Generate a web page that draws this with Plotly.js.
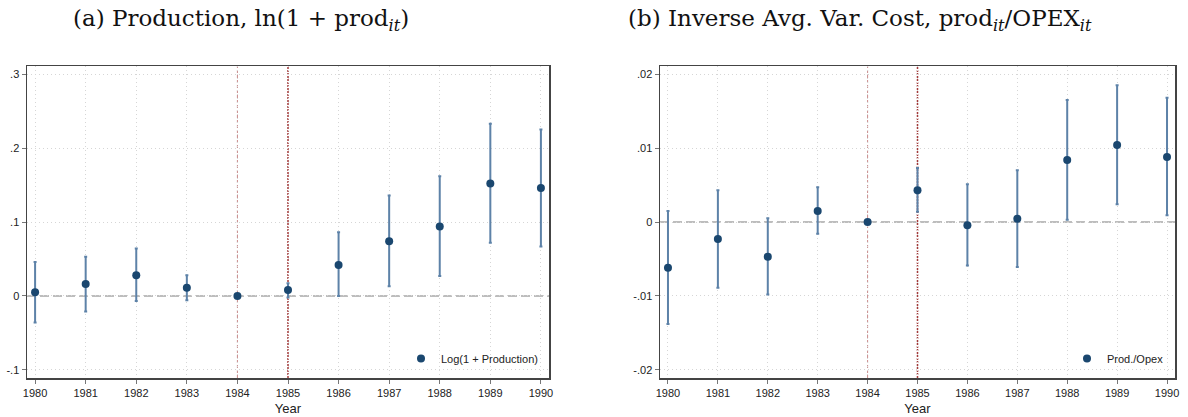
<!DOCTYPE html>
<html>
<head>
<meta charset="utf-8">
<script src="https://cdn.plot.ly/plotly-3.0.1.min.js"></script>
<style>html,body{margin:0;padding:0;background:#fff;}#chart{width:1188px;height:417px;}</style>
</head>
<body>
<div id="chart"></div>
<script>
// ---- data ----
const years = [1980, 1981, 1982, 1983, 1984, 1985, 1986, 1987, 1988, 1989, 1990];

const prodCoef = [0.005, 0.016, 0.028, 0.011, 0, 0.008, 0.042, 0.074, 0.094, 0.152, 0.146];
const prodHi   = [0.046, 0.053, 0.064, 0.028, 0, 0.017, 0.086, 0.136, 0.162, 0.233, 0.225];
const prodLo   = [-0.036, -0.021, -0.007, -0.006, 0, -0.002, 0.000, 0.013, 0.027, 0.072, 0.067];

const opexCoef = [-0.0062, -0.0023, -0.0047, 0.0015, 0, 0.0043, -0.00045, 0.00045, 0.0084, 0.0104, 0.0088];
const opexHi   = [0.0015, 0.0043, 0.0005, 0.0047, 0, 0.0073, 0.0051, 0.0070, 0.0165, 0.0185, 0.0168];
const opexLo   = [-0.0138, -0.0089, -0.0098, -0.0016, 0, 0.0014, -0.0059, -0.0061, 0.0003, 0.0024, 0.0009];

const prodTickVals = [-0.1, 0, 0.1, 0.2, 0.3];
const prodTickText = ["-.1", "0", ".1", ".2", ".3"];
const opexTickVals = [-0.02, -0.01, 0, 0.01, 0.02];
const opexTickText = ["-.02", "-.01", "0", ".01", ".02"];

const legendA = "Log(1 + Production)";
const legendB = "Prod./Opex";
const titleA = "(a) Production, ln(1 + prod<sub><i>it</i></sub>)";
const titleB = "(b) Inverse Avg. Var. Cost, prod<sub><i>it</i></sub>/OPEX<sub><i>it</i></sub>";
const eventYear = 1984;
const treatYear = 1985;

// ---- build ----
const W = 1188, H = 417;
const px = v => v / W;
const py = v => 1 - v / H;

const navy = "#1a476f";
const barCol = "#5d82a8";

function errTrace(coef, hi, lo, xa, ya, name, legend) {
  return {
    type: "scatter", mode: "markers", x: years, y: coef,
    xaxis: xa, yaxis: ya, name: name, legend: legend,
    marker: {color: navy, size: 8},
    error_y: {
      type: "data", symmetric: false,
      array: hi.map((h, i) => h - coef[i]),
      arrayminus: coef.map((c, i) => c - lo[i]),
      color: barCol, thickness: 2, width: 1.5
    },
    showlegend: true
  };
}

const data = [
  errTrace(prodCoef, prodHi, prodLo, "x", "y", legendA, "legend"),
  errTrace(opexCoef, opexHi, opexLo, "x2", "y2", legendB, "legend2")
];

const yDom = [py(378), py(66)];
const tickFont = {family: "Liberation Sans, Arial, sans-serif", size: 11, color: "#222"};

function xAxis(domain, anchor) {
  return {
    domain: domain, anchor: anchor, range: [1979.84, 1990.16],
    tickvals: years, ticktext: years.map(String), tickfont: tickFont,
    ticks: "outside", ticklen: 4, tickcolor: "#777", tickwidth: 1,
    showgrid: true, gridcolor: "#d6d6d6", griddash: "1px,3px", gridwidth: 1,
    zeroline: false, showline: true, linecolor: "#444", linewidth: 1.5, mirror: true,
    title: {text: "Year", font: {family: "Liberation Sans, Arial, sans-serif", size: 13, color: "#222"}, standoff: 6}
  };
}
function yAxis(domain, anchor, range, tv, tt) {
  return {
    domain: domain, anchor: anchor, range: range,
    tickvals: tv, ticktext: tt, tickfont: tickFont,
    ticks: "outside", ticklen: 4, tickcolor: "#777", tickwidth: 1,
    showgrid: true, gridcolor: "#d6d6d6", griddash: "1px,3px", gridwidth: 1,
    zeroline: false, showline: true, linecolor: "#444", linewidth: 1.5, mirror: true
  };
}

function vline(xv, xa, ya, color, width, dash) {
  return {type: "line", xref: xa, yref: ya + " domain", x0: xv, x1: xv, y0: 0, y1: 1,
          line: {color: color, width: width, dash: dash}, layer: "below"};
}
function hline(ya, xa) {
  return {type: "line", xref: xa + " domain", yref: ya, x0: 0, x1: 1, y0: 0, y1: 0,
          line: {color: "#a8a8a8", width: 1.5, dash: "9px,4px"}, layer: "below"};
}

const titleFont = {family: "DejaVu Serif, Liberation Serif, serif", size: 23, color: "#111"};

const layout = {
  width: W, height: H,
  margin: {l: 0, r: 0, t: 0, b: 0},
  paper_bgcolor: "#fff", plot_bgcolor: "#fff",
  xaxis: xAxis([px(27), px(549)], "y"),
  yaxis: yAxis(yDom, "x", [-0.111, 0.311], prodTickVals, prodTickText),
  xaxis2: xAxis([px(660), px(1175)], "y2"),
  yaxis2: yAxis(yDom, "x2", [-0.0211, 0.0211], opexTickVals, opexTickText),
  shapes: [
    hline("y", "x"), hline("y2", "x2"),
    vline(eventYear, "x", "y", "#c98a8a", 1, "3px,2px"),
    vline(treatYear, "x", "y", "#a33a3a", 1.5, "2px,1px"),
    vline(eventYear, "x2", "y2", "#c98a8a", 1, "3px,2px"),
    vline(treatYear, "x2", "y2", "#a33a3a", 1.5, "2px,1px")
  ],
  legend: {x: px(543), y: py(373), xanchor: "right", yanchor: "bottom",
           bgcolor: "rgba(0,0,0,0)", borderwidth: 0,
           font: {family: "Liberation Sans, Arial, sans-serif", size: 11, color: "#222"}},
  legend2: {x: px(1169), y: py(373), xanchor: "right", yanchor: "bottom",
            bgcolor: "rgba(0,0,0,0)", borderwidth: 0,
            font: {family: "Liberation Sans, Arial, sans-serif", size: 11, color: "#222"}},
  annotations: [
    {text: titleA, xref: "paper", yref: "paper", x: px(241), y: py(20), xanchor: "center", yanchor: "middle",
     showarrow: false, font: titleFont},
    {text: titleB, xref: "paper", yref: "paper", x: px(860), y: py(20), xanchor: "center", yanchor: "middle",
     showarrow: false, font: titleFont}
  ]
};

Plotly.newPlot("chart", data, layout, {staticPlot: true, displayModeBar: false});
</script>
</body>
</html>
